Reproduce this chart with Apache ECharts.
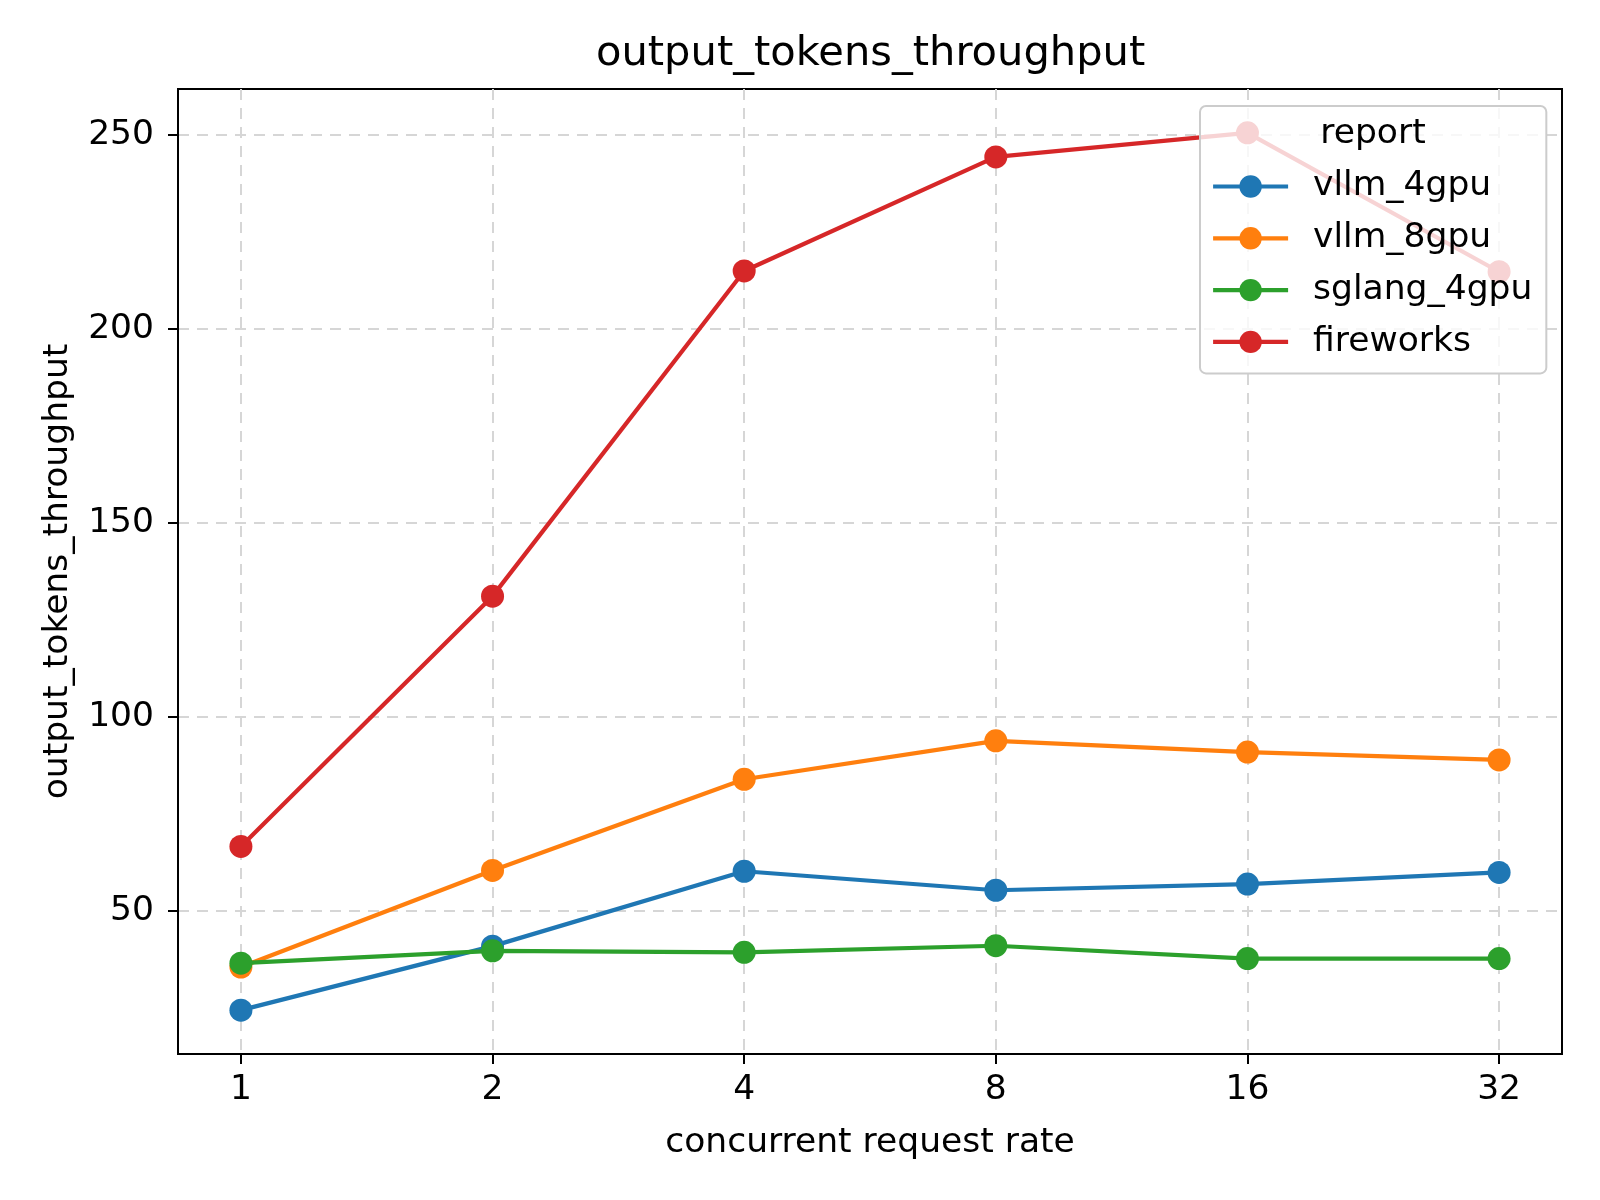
<!DOCTYPE html>
<html>
<head>
<meta charset="utf-8">
<script src="https://cdn.jsdelivr.net/npm/echarts@6/dist/echarts.min.js"></script>
<style>html,body{margin:0;padding:0;background:#fff;}#c{width:1600px;height:1200px;}</style>
</head>
<body>
<div id="c"></div>
<script>
const xLabels = ['1', '2', '4', '8', '16', '32'];
const yTicks = [50, 100, 150, 200, 250];
const seriesNames = ['vllm_4gpu', 'vllm_8gpu', 'sglang_4gpu', 'fireworks'];
const vllm4 = [24.5, 41.0, 60.3, 55.4, 57.0, 60.0];
const vllm8 = [35.6, 60.5, 84.0, 93.9, 91.0, 89.0];
const sglang4 = [36.6, 39.8, 39.4, 41.1, 37.8, 37.8];
const fireworks = [66.7, 131.2, 215.0, 244.4, 250.6, 214.8];
const colors = ['#1f77b4', '#ff7f0e', '#2ca02c', '#d62728'];

const allVals = [vllm4, vllm8, sglang4, fireworks];
const FONT = 'DejaVu Sans';
const FS = 34.5;
const chart = echarts.init(document.getElementById('c'), null, {renderer: 'canvas'});

const series = allVals.map((vals, k) => ({
  name: seriesNames[k],
  type: 'line',
  data: vals.map((v, i) => [i, v]),
  symbol: 'circle',
  symbolSize: 23,
  showSymbol: true,
  lineStyle: {width: 4.2, color: colors[k]},
  itemStyle: {color: colors[k]},
  emphasis: {disabled: true},
  animation: false,
  z: 2 + k
}));

const gridDash = {color: '#d6d6d6', width: 2, type: [11, 8]};

chart.setOption({
  animation: false,
  backgroundColor: '#ffffff',
  textStyle: {fontFamily: FONT},
  title: {
    text: 'output_tokens_throughput',
    left: 596, top: 33, padding: 0,
    textStyle: {fontFamily: FONT, fontSize: 41.6, fontWeight: 'normal', color: '#000'}
  },
  grid: {left: 178, top: 89, width: 1384, height: 965, show: true, borderColor: '#000', borderWidth: 2, containLabel: false},
  xAxis: {
    type: 'value', min: -0.25, max: 5.25,
    name: 'concurrent request rate', nameLocation: 'middle', nameGap: 72,
    nameTextStyle: {fontFamily: FONT, fontSize: FS, color: '#000'},
    axisLine: {show: true, onZero: false, lineStyle: {color: '#000', width: 2}},
    axisTick: {show: true, length: 10, lineStyle: {color: '#000', width: 2}, customValues: [0, 1, 2, 3, 4, 5]},
    axisLabel: {customValues: [0, 1, 2, 3, 4, 5], formatter: v => xLabels[Math.round(v)], fontFamily: FONT, fontSize: FS, color: '#000', margin: 19},
    splitLine: {show: true, lineStyle: gridDash}
  },
  yAxis: {
    type: 'value', min: 13.2, max: 261.9,
    name: 'output_tokens_throughput', nameLocation: 'middle', nameGap: 102, nameRotate: 90,
    nameTextStyle: {fontFamily: FONT, fontSize: FS, color: '#000'},
    axisLine: {show: true, onZero: false, lineStyle: {color: '#000', width: 2}},
    axisTick: {show: true, length: 10, lineStyle: {color: '#000', width: 2}, customValues: yTicks},
    axisLabel: {customValues: yTicks, fontFamily: FONT, fontSize: FS, color: '#000', margin: 24},
    splitLine: {show: true, lineStyle: gridDash}
  },
  legend: {
    data: seriesNames,
    orient: 'vertical',
    left: 1200, top: 106,
    padding: [63, 14, 14, 11],
    itemWidth: 75, itemHeight: 28, itemGap: 16.8,
    backgroundColor: 'rgba(255,255,255,0.8)',
    borderColor: '#cccccc', borderWidth: 2, borderRadius: 6,
    lineStyle: {width: 4.2},
    textStyle: {fontFamily: FONT, fontSize: FS, color: '#000', lineHeight: 28, padding: [0, 0, 0, 20]},
    selectedMode: false,
    z: 10
  },
  graphic: [{
    type: 'text', x: 1373, y: 134, z: 100,
    style: {text: 'report', font: FS + 'px "DejaVu Sans"', fill: '#000', textAlign: 'center', textVerticalAlign: 'middle'}
  }],
  series: series
});
</script>
</body>
</html>
